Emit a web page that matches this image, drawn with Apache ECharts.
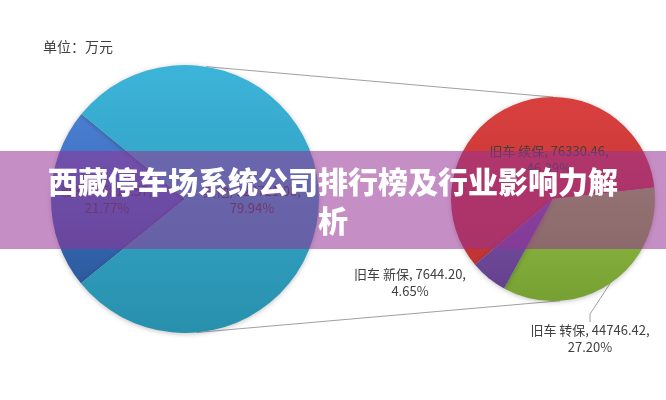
<!DOCTYPE html>
<html>
<head>
<meta charset="utf-8">
<style>
html,body{margin:0;padding:0;background:#fff;}
#c{width:666px;height:400px;}
</style>
<script src="https://cdn.jsdelivr.net/npm/echarts@6/dist/echarts.min.js"></script>
</head>
<body>
<div id="c"></div>
<script>
// ---- data ----
const unitText = '单位：万元';
const titleText = '西藏停车场系统公司排行榜及行业影响力解\n析';
const mainNames = ['新车', '其他'];
const mainValues = [35813.57, 128721.08];
const mainPct = ['21.77%', '79.94%'];
const subNames = ['旧车 续保', '旧车 转保', '旧车 新保'];
const subValues = [76330.46, 44746.42, 7644.20];
const subPct = ['46.39%', '27.20%', '4.65%'];

// ---- layout ----
const LC = [185, 199], LR = 134;
const RC = [553, 199], RR = 102;
const font = '"Noto Sans CJK SC", "Noto Sans", sans-serif';

function grad(a, b) {
  return new echarts.graphic.LinearGradient(0, 0, 0, 1, [
    { offset: 0, color: a }, { offset: 1, color: b }
  ]);
}
const mainColors = [grad('#4a7fd2', '#2c5a9e'), grad('#3cb4d9', '#2890ad')];
const subColors = [grad('#d8403e', '#c03432'), grad('#92be46', '#76a032'), grad('#7c52a8', '#63408c')];

function pt(c, r, deg) {
  const a = deg * Math.PI / 180;
  return [c[0] + r * Math.cos(a), c[1] - r * Math.sin(a)];
}
const lt = pt(LC, LR, 81), lb = pt(LC, LR, -85);
const rt = pt(RC, RR, 90), rb = pt(RC, RR, -86);

const labelStyle = { color: '#404040', fontSize: 13, fontFamily: font, lineHeight: 17, overflow: 'none' };

// label anchor positions (relative to pie centres)
const mainLabelPos = [[LC[0] - 78, LC[1] + 1], [LC[0] + 67, LC[1] + 1]];
const subLabelPos = [[RC[0] - 4, RC[1] - 39], [RC[0] + 37, RC[1] + 140], [RC[0] - 143, RC[1] + 84]];

const chart = echarts.init(document.getElementById('c'));
chart.setOption({
  animation: false,
  backgroundColor: '#ffffff',
  title: {
    text: unitText, left: 38, top: 35,
    textStyle: { color: '#404040', fontSize: 14, fontWeight: 'normal', fontFamily: font }
  },
  series: [
    {
      type: 'pie', center: LC, radius: LR, startAngle: 219, clockwise: true,
      silent: true,
      data: mainNames.map((n, i) => ({ name: n, value: mainValues[i], itemStyle: { color: mainColors[i] } })),
      itemStyle: { borderWidth: 0, shadowBlur: 5, shadowColor: 'rgba(0,0,0,0.25)', shadowOffsetY: 1 },
      label: {
        show: true, position: 'inside', ...labelStyle,
        formatter: p => p.name + ', ' + p.value.toFixed(2) + ',\n' + mainPct[p.dataIndex]
      },
      labelLine: { show: false },
      labelLayout: p => ({ x: mainLabelPos[p.dataIndex][0], y: mainLabelPos[p.dataIndex][1], align: 'center', verticalAlign: 'middle' })
    },
    {
      type: 'pie', center: RC, radius: RR, startAngle: 220, clockwise: true,
      silent: true,
      data: subNames.map((n, i) => ({
        name: n, value: subValues[i], itemStyle: { color: subColors[i] },
        label: { position: i === 0 ? 'inside' : 'outside' },
        labelLine: { show: i !== 0 }
      })),
      itemStyle: { borderWidth: 0, shadowBlur: 5, shadowColor: 'rgba(0,0,0,0.25)', shadowOffsetY: 1 },
      label: {
        show: true, ...labelStyle, width: 200,
        formatter: p => p.name + ', ' + p.value.toFixed(2) + ',\n' + subPct[p.dataIndex]
      },
      labelLine: { length: 8, length2: 8, lineStyle: { color: '#a0a0a0', width: 1 } },
      labelLayout: p => ({ x: subLabelPos[p.dataIndex][0], y: subLabelPos[p.dataIndex][1], align: 'center', verticalAlign: 'middle' })
    }
  ],
  graphic: [
    { type: 'line', silent: true, z: 1, shape: { x1: lt[0], y1: lt[1], x2: rt[0], y2: rt[1] }, style: { stroke: '#a0a0a0', lineWidth: 1 } },
    { type: 'line', silent: true, z: 1, shape: { x1: lb[0], y1: lb[1], x2: rb[0], y2: rb[1] }, style: { stroke: '#a0a0a0', lineWidth: 1 } },
    { type: 'rect', silent: true, z: 100, shape: { x: 0, y: 151, width: 666, height: 98 }, style: { fill: 'rgba(150,50,150,0.55)' } },
    {
      type: 'text', silent: true, z: 101, x: 333, y: 162,
      style: {
        text: titleText, fill: '#ffffff', font: '900 30px ' + font,
        textAlign: 'center', textVerticalAlign: 'top', lineHeight: 39
      }
    }
  ]
});
</script>
</body>
</html>
